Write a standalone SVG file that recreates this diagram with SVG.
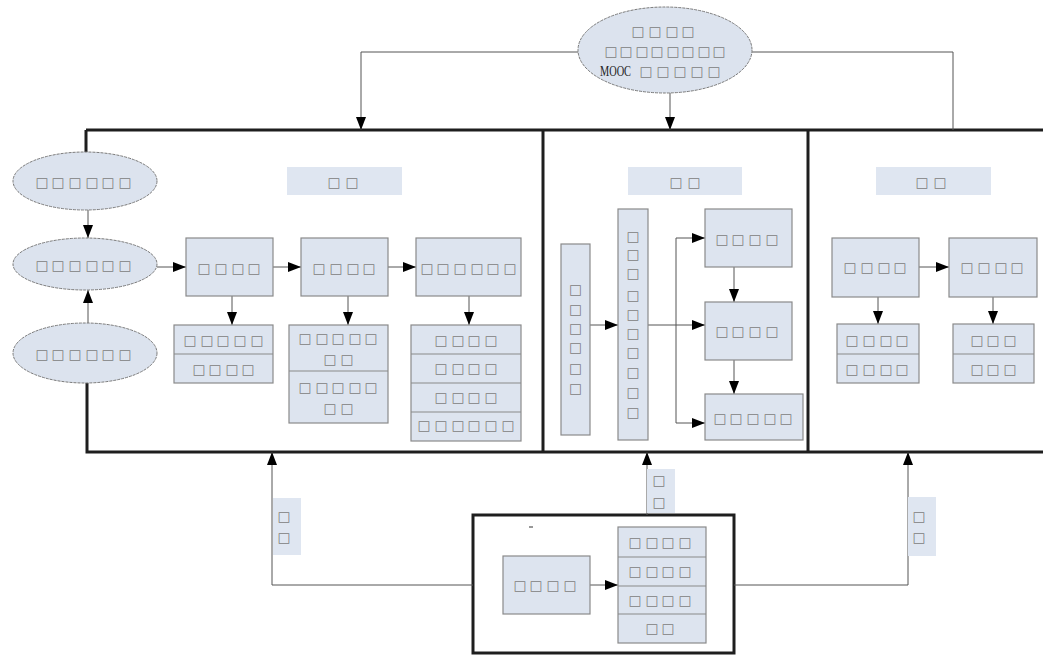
<svg xmlns="http://www.w3.org/2000/svg" width="1043" height="655" viewBox="0 0 1043 655">
<style>
.bg{fill:#ffffff}
.frame{fill:none;stroke:#1e1e1e;stroke-width:3}
.box{fill:#dde4ef;stroke:#8a8a8a;stroke-width:1.2}
.ell{fill:#dce3ee;stroke:#7a7a7a;stroke-width:1;stroke-dasharray:3 1}
.lbl{fill:#dfe6f1;stroke:none}
.div{stroke:#8a8a8a;stroke-width:1.2}
.c{fill:none;stroke:#555;stroke-width:1}
.ca{fill:none;stroke:#555;stroke-width:1;marker-end:url(#ah)}
.t{font-family:"DejaVu Sans","Noto Sans",sans-serif;font-size:13.5px;fill:#7d7d7d;text-anchor:middle}
.m{font-family:"Liberation Serif",serif;font-size:14px;fill:#222}
</style>
<defs>
<marker id="ah" markerUnits="userSpaceOnUse" markerWidth="14" markerHeight="11" refX="13" refY="5" orient="auto">
<path d="M0,0 L13,5 L0,10 z" fill="#000"/>
</marker>
</defs>
<rect class="bg" x="0" y="0" width="1043" height="655"/>

<g id="frames">
<path class="frame" d="M86,130 H1043 M86,130 V152 M87,383 V452 H1043 M543,130 V452 M808,130 V452"/>
<rect class="frame" x="473" y="515" width="261" height="138"/>
<line x1="529" y1="527" x2="533" y2="527" stroke="#333" stroke-width="1"/>
</g>

<g id="connectors">
<path class="ca" d="M578,52 H361 V130"/>
<path class="c" d="M752,52 H953 V130"/>
<path class="ca" d="M670,93 V130"/>
<path class="ca" d="M88,210 V238"/>
<path class="ca" d="M88,323 V290"/>
<path class="ca" d="M157,267 H186"/>
<path class="ca" d="M273,267 H301"/>
<path class="ca" d="M388,267 H416"/>
<path class="ca" d="M232,296 V325"/>
<path class="ca" d="M348,296 V325"/>
<path class="ca" d="M469,296 V325"/>
<path class="ca" d="M590,325 H618"/>
<path class="c" d="M648,325 H676 M676,238 V423"/>
<path class="ca" d="M676,238 H705"/>
<path class="ca" d="M676,325 H705"/>
<path class="ca" d="M676,423 H705"/>
<path class="ca" d="M734,267 V302"/>
<path class="ca" d="M734,350 V394"/>
<path class="ca" d="M919,267 H949"/>
<path class="ca" d="M878,297 V324"/>
<path class="ca" d="M993,297 V324"/>
<path class="ca" d="M473,585 H272 V452"/>
<path class="ca" d="M647,515 V452"/>
<path class="ca" d="M734,585 H908 V452"/>
<path class="ca" d="M590,585 H618"/>
</g>

<g id="top-ellipse">
<ellipse class="ell" cx="665" cy="50" rx="87" ry="43"/>
<text class="t" x="638 655 672 688" y="36">□□□□</text>
<text class="t" x="611 626 642 657 673 688 704 719" y="56">□□□□□□□□</text>
<text class="m" x="600" y="76" textLength="31" lengthAdjust="spacingAndGlyphs">MOOC</text>
<text class="t" x="646 663 680 697 714" y="76">□□□□□</text>
</g>

<g id="ellipse-1">
<ellipse class="ell" cx="85" cy="181" rx="72" ry="29"/>
<text class="t" x="42 58 75 92 108 125" y="187">□□□□□□</text>
</g>
<g id="ellipse-2">
<ellipse class="ell" cx="85" cy="264" rx="72" ry="26"/>
<text class="t" x="42 58 75 92 108 125" y="270">□□□□□□</text>
</g>
<g id="ellipse-3">
<ellipse class="ell" cx="85" cy="353" rx="72" ry="30"/>
<text class="t" x="42 58 75 92 108 125" y="359">□□□□□□</text>
</g>

<g id="label-left">
<rect class="lbl" x="287" y="167" width="115" height="28"/>
<text class="t" x="334 352" y="187">□□</text>
</g>
<g id="label-mid">
<rect class="lbl" x="628" y="167" width="114" height="28"/>
<text class="t" x="676 694" y="187">□□</text>
</g>
<g id="label-right">
<rect class="lbl" x="876" y="167" width="115" height="28"/>
<text class="t" x="922 940" y="187">□□</text>
</g>

<g id="box-a">
<rect class="box" x="186" y="238" width="87" height="58"/>
<text class="t" x="204 221 238 254" y="273">□□□□</text>
</g>
<g id="box-b">
<rect class="box" x="301" y="238" width="87" height="58"/>
<text class="t" x="319 336 353 369" y="273">□□□□</text>
</g>
<g id="box-c">
<rect class="box" x="416" y="238" width="105" height="58"/>
<text class="t" x="427 443 460 477 493 510" y="273">□□□□□□</text>
</g>

<g id="sub-a">
<rect class="box" x="174" y="325" width="99" height="58"/>
<line class="div" x1="174" y1="354" x2="273" y2="354"/>
<text class="t" x="190 207 223 240 257" y="345">□□□□□</text>
<text class="t" x="199 215 232 248" y="374">□□□□</text>
</g>
<g id="sub-b">
<rect class="box" x="289" y="325" width="99" height="98"/>
<line class="div" x1="289" y1="371" x2="388" y2="371"/>
<text class="t" x="305 322 338 355 371" y="343">□□□□□</text>
<text class="t" x="330 347" y="364">□□</text>
<text class="t" x="305 322 338 355 371" y="392">□□□□□</text>
<text class="t" x="330 347" y="413">□□</text>
</g>
<g id="sub-c">
<rect class="box" x="411" y="325" width="110" height="116"/>
<line class="div" x1="411" y1="354" x2="521" y2="354"/>
<line class="div" x1="411" y1="383" x2="521" y2="383"/>
<line class="div" x1="411" y1="412" x2="521" y2="412"/>
<text class="t" x="441 458 474 491" y="345">□□□□</text>
<text class="t" x="441 458 474 491" y="373">□□□□</text>
<text class="t" x="441 458 474 491" y="402">□□□□</text>
<text class="t" x="424 441 458 474 491 508" y="430">□□□□□□</text>
</g>

<g id="tall-1">
<rect class="box" x="561" y="244" width="29" height="191"/>
<text class="t"><tspan x="575.5" y="294">□</tspan><tspan x="575.5" y="314">□</tspan><tspan x="575.5" y="333">□</tspan><tspan x="575.5" y="352">□</tspan><tspan x="575.5" y="373">□</tspan><tspan x="575.5" y="393">□</tspan></text>
</g>
<g id="tall-2">
<rect class="box" x="618" y="209" width="30" height="231"/>
<text class="t"><tspan x="633" y="241">□</tspan><tspan x="633" y="259">□</tspan><tspan x="633" y="278">□</tspan><tspan x="633" y="300">□</tspan><tspan x="633" y="319">□</tspan><tspan x="633" y="338">□</tspan><tspan x="633" y="357">□</tspan><tspan x="633" y="377">□</tspan><tspan x="633" y="397">□</tspan><tspan x="633" y="417">□</tspan></text>
</g>
<g id="box-r1">
<rect class="box" x="705" y="209" width="87" height="58"/>
<text class="t" x="722 738 755 772" y="244">□□□□</text>
</g>
<g id="box-r2">
<rect class="box" x="705" y="302" width="87" height="58"/>
<text class="t" x="722 738 755 772" y="336">□□□□</text>
</g>
<g id="box-r3">
<rect class="box" x="705" y="394" width="98" height="46"/>
<text class="t" x="720 736 753 770 786" y="423">□□□□□</text>
</g>

<g id="box-d">
<rect class="box" x="832" y="238" width="87" height="59"/>
<text class="t" x="850 867 884 900" y="272">□□□□</text>
</g>
<g id="box-e">
<rect class="box" x="949" y="238" width="88" height="59"/>
<text class="t" x="967 984 1001 1017" y="272">□□□□</text>
</g>
<g id="sub-d">
<rect class="box" x="837" y="324" width="82" height="59"/>
<line class="div" x1="837" y1="354" x2="919" y2="354"/>
<text class="t" x="852 869 886 902" y="345">□□□□</text>
<text class="t" x="852 869 886 902" y="374">□□□□</text>
</g>
<g id="sub-e">
<rect class="box" x="953" y="324" width="81" height="59"/>
<line class="div" x1="953" y1="354" x2="1034" y2="354"/>
<text class="t" x="977 993 1010" y="345">□□□</text>
<text class="t" x="977 993 1010" y="374">□□□</text>
</g>

<g id="label-bl">
<rect class="lbl" x="273" y="498" width="28" height="57"/>
<text class="t"><tspan x="284" y="521">□</tspan><tspan x="284" y="542">□</tspan></text>
</g>
<g id="label-bm">
<rect class="lbl" x="647" y="469" width="28" height="44"/>
<text class="t"><tspan x="659" y="485">□</tspan><tspan x="659" y="507">□</tspan></text>
</g>
<g id="label-br">
<rect class="lbl" x="908" y="497" width="28" height="59"/>
<text class="t"><tspan x="919" y="521">□</tspan><tspan x="919" y="542">□</tspan></text>
</g>

<g id="box-f">
<rect class="box" x="503" y="556" width="87" height="58"/>
<text class="t" x="520 536 553 570" y="590">□□□□</text>
</g>
<g id="box-g">
<rect class="box" x="618" y="527" width="88" height="116"/>
<line class="div" x1="618" y1="557" x2="706" y2="557"/>
<line class="div" x1="618" y1="586" x2="706" y2="586"/>
<line class="div" x1="618" y1="614" x2="706" y2="614"/>
<text class="t" x="635 652 668 685" y="547">□□□□</text>
<text class="t" x="635 652 668 685" y="576">□□□□</text>
<text class="t" x="635 652 668 685" y="605">□□□□</text>
<text class="t" x="652 668" y="633">□□</text>
</g>
</svg>
